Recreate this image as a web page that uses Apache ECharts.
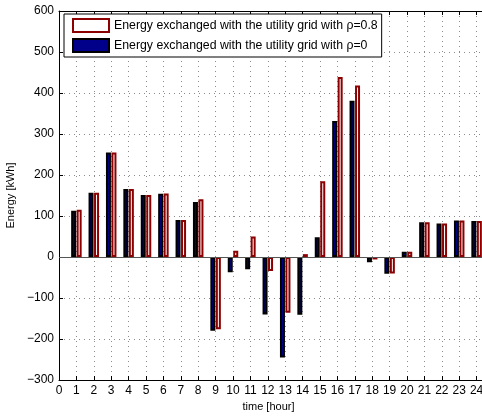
<!DOCTYPE html>
<html>
<head>
<meta charset="utf-8">
<script src="https://cdn.jsdelivr.net/npm/echarts@6/dist/echarts.min.js"></script>
<style>
  html, body { margin: 0; padding: 0; background: #fff; }
  #chart { width: 482px; height: 418px; }
</style>
</head>
<body>
<div id="chart"></div>
<script>
// Hourly energy exchanged with the utility grid (kWh)
const hours = [1, 2, 3, 4, 5, 6, 7, 8, 9, 10, 11, 12, 13, 14, 15, 16, 17, 18, 19, 20, 21, 22, 23, 24];
const gridRho0 = [113, 157, 255, 166, 151, 154, 90, 134, -180, -37, -30, -140, -245, -141, 48, 332, 381, -13, -41, 13, 85, 82, 89, 88];
const gridRho08 = [115, 157, 255, 166, 151, 155, 90, 141, -176, 15, 50, -34, -136, 7, 185, 439, 418, -6, -40, 13, 85, 82, 89, 88];
const nameRho08 = 'Energy exchanged with the utility grid with \u03c1=0.8';
const nameRho0 = 'Energy exchanged with the utility grid with \u03c1=0';

const FONT = 'Liberation Sans, Arial, Helvetica, sans-serif';
const minus = v => String(v).replace('-', '\u2212');

const chart = echarts.init(document.getElementById('chart'), null, { renderer: 'canvas' });

const dotted = { color: '#8c8c8c', width: 1, type: [1, 4] };

chart.setOption({
  animation: false,
  backgroundColor: '#fff',
  grid: { left: 59, top: 11, bottom: 38, right: -12, containLabel: false, outerBoundsMode: 'none' },
  legend: {
    orient: 'vertical',
    left: 64,
    top: 14,
    backgroundColor: '#fff',
    borderColor: '#000',
    borderWidth: 1,
    borderRadius: 0,
    padding: [4, 4, 4, 8],
    itemGap: 5,
    itemWidth: 36,
    itemHeight: 13,
    selectedMode: false,
    textStyle: { fontFamily: FONT, fontSize: 12.3, color: '#000' },
    data: [
      { name: nameRho08, icon: 'rect', itemStyle: { color: '#fff', borderColor: '#8b0000', borderWidth: 2 } },
      { name: nameRho0, icon: 'rect', itemStyle: { color: '#00008b', borderColor: '#000', borderWidth: 2 } }
    ]
  },
  xAxis: [
    {
      type: 'value',
      min: 0, max: 25, interval: 1,
      name: 'time [hour]',
      nameLocation: 'middle',
      nameGap: 21,
      nameTextStyle: { fontFamily: FONT, fontSize: 11, color: '#000', padding: [0, 16, 0, 0] },
      axisLine: { show: true, onZero: false, lineStyle: { color: '#000', width: 1 } },
      axisTick: { show: true, inside: true, length: 4, lineStyle: { color: '#000' } },
      axisLabel: {
        fontFamily: FONT, fontSize: 12, color: '#000', margin: 5,
        formatter: v => (v > 24 ? '' : String(v))
      },
      splitLine: { show: true, lineStyle: dotted }
    },
    {
      type: 'value',
      position: 'top',
      min: 0, max: 25, interval: 1,
      axisLine: { show: true, onZero: false, lineStyle: { color: '#000', width: 1 } },
      axisTick: { show: true, inside: true, length: 4, lineStyle: { color: '#000' } },
      axisLabel: { show: false },
      splitLine: { show: false }
    }
  ],
  yAxis: {
    type: 'value',
    min: -300, max: 600, interval: 100,
    name: 'Energy [kWh]',
    nameLocation: 'middle',
    nameGap: 36,
    nameTextStyle: { fontFamily: FONT, fontSize: 11, color: '#000' },
    axisLine: { show: true, onZero: false, lineStyle: { color: '#000', width: 1 } },
    axisTick: { show: true, inside: true, length: 4, lineStyle: { color: '#000' } },
    axisLabel: { fontFamily: FONT, fontSize: 12, color: '#000', margin: 5, formatter: minus },
    splitLine: { show: true, lineStyle: dotted }
  },
  series: [
    {
      name: nameRho0,
      type: 'bar',
      xAxisIndex: 0,
      barWidth: 5,
      barGap: '10%',
      data: hours.map((h, i) => [h, gridRho0[i]]),
      itemStyle: { color: '#00008b', borderColor: '#000', borderWidth: 2 },
      markLine: {
        silent: true,
        symbol: 'none',
        label: { show: false },
        lineStyle: { color: '#555', width: 1, type: 'solid' },
        data: [{ yAxis: 0 }]
      }
    },
    {
      name: nameRho08,
      type: 'bar',
      xAxisIndex: 0,
      barWidth: 5,
      barGap: '10%',
      data: hours.map((h, i) => [h, gridRho08[i]]),
      itemStyle: { color: '#fff', borderColor: '#8b0000', borderWidth: 2 }
    }
  ]
});
</script>
</body>
</html>
